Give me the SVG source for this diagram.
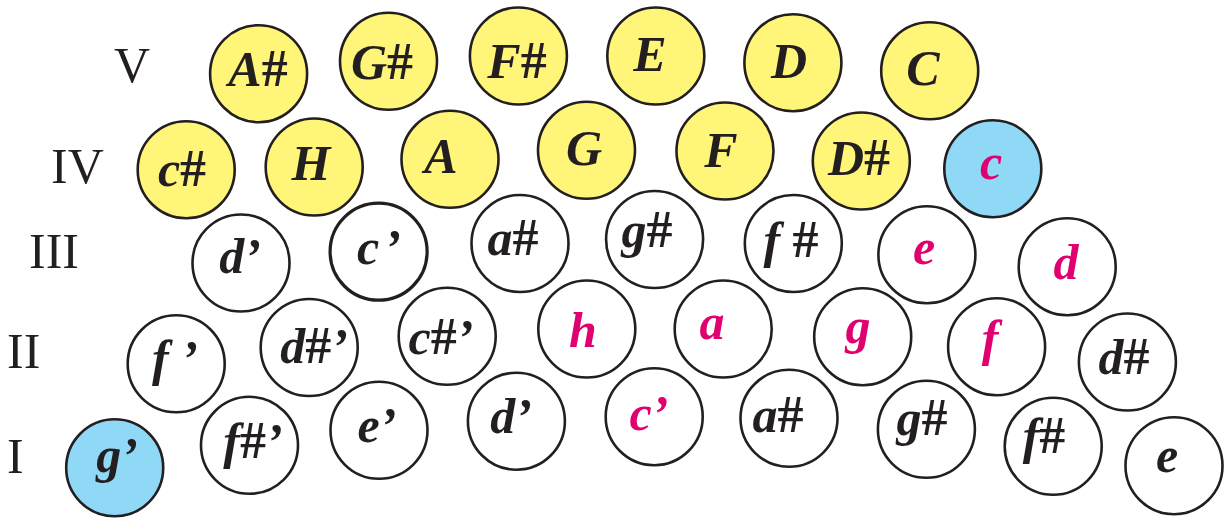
<svg xmlns="http://www.w3.org/2000/svg" width="1225" height="518" viewBox="0 0 1225 518">
<style>
.k{stroke:#231f20;stroke-width:2.6}
.w{fill:#ffffff}
.y{fill:#fff679}
.b{fill:#8fd8f6}
.t{font-family:"Liberation Serif","Times New Roman",serif;font-weight:bold;font-style:italic;font-size:50px;fill:#231f20;text-anchor:middle}
.m{fill:#e0006f}
.s{font-style:normal;font-weight:bold;font-size:52px}
.lbl{font-family:"Liberation Serif","Times New Roman",serif;font-size:50px;fill:#231f20}
</style>
<rect width="1225" height="518" fill="#ffffff"/>
<g id="labels">
<text class="lbl" x="114" y="82">V</text>
<text class="lbl" x="51" y="183">IV</text>
<text class="lbl" x="29" y="268">III</text>
<text class="lbl" x="7" y="368">II</text>
<text class="lbl" x="7" y="473">I</text>
</g>
<g id="row5">
<g id="n-Ais"><ellipse class="k y" cx="258.6" cy="73.7" rx="48.5" ry="48.5"/><text class="t" x="258" y="86">A<tspan class="s">#</tspan></text></g>
<g id="n-Gis"><ellipse class="k y" cx="388.5" cy="61.3" rx="48.5" ry="48.5"/><text class="t" x="382" y="79">G<tspan class="s">#</tspan></text></g>
<g id="n-Fis"><ellipse class="k y" cx="518.4" cy="56" rx="48.5" ry="48.5"/><text class="t" x="517" y="78">F<tspan class="s">#</tspan></text></g>
<g id="n-E"><ellipse class="k y" cx="655.8" cy="56" rx="48.5" ry="48.5"/><text class="t" x="650" y="71">E</text></g>
<g id="n-D"><ellipse class="k y" cx="792.9" cy="62.7" rx="48.5" ry="48.5"/><text class="t" x="789" y="78">D</text></g>
<g id="n-C"><ellipse class="k y" cx="929.7" cy="70.8" rx="48.5" ry="48.5"/><text class="t" x="923" y="85">C</text></g>
</g>
<g id="row4">
<g id="n-cis"><ellipse class="k y" cx="186.2" cy="169.7" rx="48.5" ry="48.5"/><text class="t" x="182" y="186">c<tspan class="s">#</tspan></text></g>
<g id="n-H"><ellipse class="k y" cx="314.2" cy="167" rx="48.5" ry="48.5"/><text class="t" x="311" y="180">H</text></g>
<g id="n-A"><ellipse class="k y" cx="450" cy="159.3" rx="48.5" ry="48.5"/><text class="t" x="441" y="172.7">A</text></g>
<g id="n-G"><ellipse class="k y" cx="586.5" cy="150.3" rx="48.5" ry="48.5"/><text class="t" x="584" y="165">G</text></g>
<g id="n-F"><ellipse class="k y" cx="725" cy="151" rx="48.5" ry="48.5"/><text class="t" x="721" y="167">F</text></g>
<g id="n-Dis"><ellipse class="k y" cx="861.3" cy="161" rx="48.5" ry="48.5"/><text class="t" x="859" y="175">D<tspan class="s">#</tspan></text></g>
<g id="n-c"><ellipse class="k b" cx="992.8" cy="168.7" rx="48.5" ry="48.5"/><text class="t m" x="991" y="179">c</text></g>
</g>
<g id="row3">
<g id="n-d1"><ellipse class="k w" cx="241" cy="263" rx="48.5" ry="48.5"/><text class="t" x="240" y="272.7">d’</text></g>
<g id="n-c1"><ellipse class="k w" cx="378.6" cy="251.7" rx="48.5" ry="48.5" style="stroke-width:3.2"/><text class="t" x="379" y="264">c<tspan dx="5">’</tspan></text></g>
<g id="n-ais"><ellipse class="k w" cx="520" cy="243.5" rx="48.5" ry="48.5"/><text class="t" x="513" y="255">a<tspan class="s">#</tspan></text></g>
<g id="n-gis"><ellipse class="k w" cx="654.6" cy="239.5" rx="48.5" ry="48.5"/><text class="t" x="647" y="246.7">g<tspan class="s">#</tspan></text></g>
<g id="n-fis"><ellipse class="k w" cx="793.3" cy="243.5" rx="48.5" ry="48.5"/><text class="t" x="791" y="256.7">f <tspan class="s">#</tspan></text></g>
<g id="n-e"><ellipse class="k w" cx="926.9" cy="254.7" rx="48.5" ry="48.5"/><text class="t m" x="924" y="264.3">e</text></g>
<g id="n-d"><ellipse class="k w" cx="1067.2" cy="266.7" rx="48.5" ry="48.5"/><text class="t m" x="1066" y="279.3">d</text></g>
</g>
<g id="row2">
<g id="n-f1"><ellipse class="k w" cx="176.2" cy="363.8" rx="48.5" ry="48.5"/><text class="t" x="175" y="375">f ’</text></g>
<g id="n-dis1"><ellipse class="k w" cx="309.2" cy="347.5" rx="48.5" ry="48.5"/><text class="t" x="314" y="363.3">d<tspan class="s">#</tspan>’</text></g>
<g id="n-cis1"><ellipse class="k w" cx="447.2" cy="336.3" rx="48.5" ry="48.5"/><text class="t" x="441" y="354">c<tspan class="s">#</tspan>’</text></g>
<g id="n-h"><ellipse class="k w" cx="586.8" cy="329" rx="48.5" ry="48.5"/><text class="t m" x="583" y="346.7">h</text></g>
<g id="n-a"><ellipse class="k w" cx="723.2" cy="329" rx="48.5" ry="48.5"/><text class="t m" x="712" y="339.3">a</text></g>
<g id="n-g"><ellipse class="k w" cx="862.7" cy="336.7" rx="48.5" ry="48.5"/><text class="t m" x="858" y="342.7">g</text></g>
<g id="n-f"><ellipse class="k w" cx="996.6" cy="346.7" rx="48.5" ry="48.5"/><text class="t m" x="990" y="355">f</text></g>
<g id="n-dis"><ellipse class="k w" cx="1127.4" cy="362" rx="48.5" ry="48.5"/><text class="t" x="1124" y="374">d<tspan class="s">#</tspan></text></g>
</g>
<g id="row1">
<g id="n-g1"><ellipse class="k b" cx="114.7" cy="467.8" rx="48.5" ry="48.5"/><text class="t" x="117" y="471.7">g’</text></g>
<g id="n-fis1"><ellipse class="k w" cx="249.5" cy="445.3" rx="48.5" ry="48.5"/><text class="t" x="253" y="458.3">f<tspan class="s">#</tspan>’</text></g>
<g id="n-e1"><ellipse class="k w" cx="379" cy="430.3" rx="48.5" ry="48.5"/><text class="t" x="377" y="441.7">e’</text></g>
<g id="n-d1b"><ellipse class="k w" cx="516.4" cy="421.2" rx="48.5" ry="48.5"/><text class="t" x="511" y="433.3">d’</text></g>
<g id="n-c1b"><ellipse class="k w" cx="654.2" cy="416.7" rx="48.5" ry="48.5"/><text class="t m" x="649" y="430">c’</text></g>
<g id="n-ais1"><ellipse class="k w" cx="789" cy="418.3" rx="48.5" ry="48.5"/><text class="t" x="778" y="431.7">a<tspan class="s">#</tspan></text></g>
<g id="n-gis1"><ellipse class="k w" cx="926.4" cy="429.3" rx="48.5" ry="48.5"/><text class="t" x="922" y="435">g<tspan class="s">#</tspan></text></g>
<g id="n-fis2"><ellipse class="k w" cx="1053.2" cy="446.3" rx="48.5" ry="48.5"/><text class="t" x="1044" y="453.3">f<tspan class="s">#</tspan></text></g>
<g id="n-e2"><ellipse class="k w" cx="1174" cy="465.7" rx="48.5" ry="48.5"/><text class="t" x="1167" y="471.7">e</text></g>
</g>
</svg>
